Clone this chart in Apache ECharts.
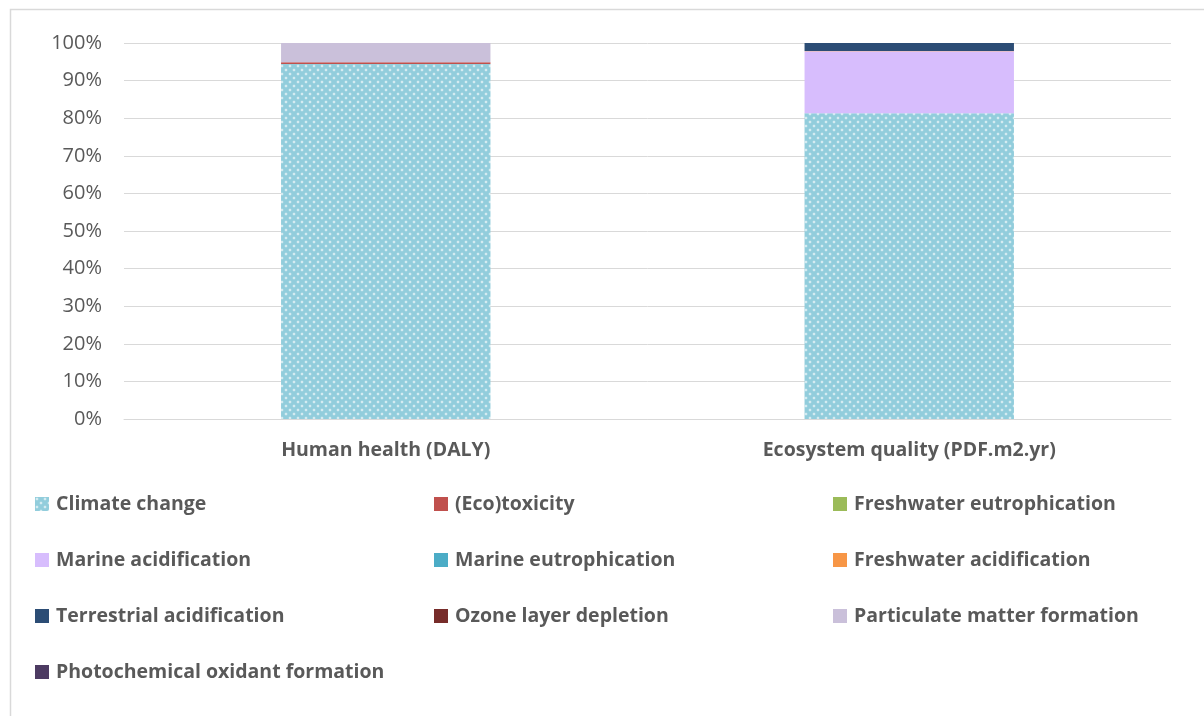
<!DOCTYPE html>
<html>
<head>
<meta charset="utf-8">
<script src="https://cdn.jsdelivr.net/npm/echarts@6/dist/echarts.min.js"></script>
<style>
  html, body { margin: 0; padding: 0; background: #fff; }
  #chart { width: 1204px; height: 716px; }
</style>
</head>
<body>
<div id="chart"></div>
<script>
const categories = ['Human health (DALY)', 'Ecosystem quality (PDF.m2.yr)']
const seriesNames = [
  'Climate change', '(Eco)toxicity', 'Freshwater eutrophication',
  'Marine acidification', 'Marine eutrophication', 'Freshwater acidification',
  'Terrestrial acidification', 'Ozone layer depletion', 'Particulate matter formation',
  'Photochemical oxidant formation'
]
// share of each category, in %
const climateChange = [94.4, 81.3]
const ecoToxicity = [0.5, 0]
const freshwaterEutro = [0, 0]
const marineAcid = [0, 16.5]
const marineEutro = [0, 0]
const freshwaterAcid = [0, 0.1]
const terrestrialAcid = [0, 2.1]
const ozoneDepletion = [0, 0]
const particulate = [5.1, 0]
const photochemical = [0, 0]
const yTicks = [0, 10, 20, 30, 40, 50, 60, 70, 80, 90, 100]

const seriesData = [climateChange, ecoToxicity, freshwaterEutro, marineAcid, marineEutro,
  freshwaterAcid, terrestrialAcid, ozoneDepletion, particulate, photochemical]

// dotted fill like the office pattern
function dotPattern() {
  const c = document.createElement('canvas')
  c.width = 8
  c.height = 8
  const ctx = c.getContext('2d')
  ctx.fillStyle = '#92CDDC'
  ctx.fillRect(0, 0, 8, 8)
  const dots = [[2, 2], [6, 6]]
  dots.forEach(function(d) {
    const g = ctx.createRadialGradient(d[0], d[1], 0, d[0], d[1], 1.8)
    g.addColorStop(0, 'rgba(255,255,255,1)')
    g.addColorStop(1, 'rgba(255,255,255,0)')
    ctx.fillStyle = g
    ctx.fillRect(d[0] - 2, d[1] - 2, 4, 4)
  })
  return { image: c, repeat: 'repeat' }
}

const colors = [dotPattern(), '#C0504D', '#9BBB59', '#D7BDFD', '#4BACC6',
  '#F79646', '#2C4D75', '#772C2A', '#CAC0DA', '#4D3B62']

const textColor = '#595959'
const font = '"Open Sans", "Liberation Sans", sans-serif'

const chart = echarts.init(document.getElementById('chart'))

const option = {
  animation: false,
  backgroundColor: '#fff',
  graphic: [{
    type: 'rect',
    left: 8,
    top: 7,
    shape: { width: 1300, height: 800 },
    style: { fill: 'none', stroke: '#D9D9D9', lineWidth: 1.5 },
    silent: true
  }],
  grid: {
    left: 124,
    right: 33,
    top: 43,
    height: 376
  },
  legend: {
    left: 30,
    top: 489,
    width: 1170,
    itemGap: 36,
    itemWidth: 14,
    itemHeight: 14,
    icon: 'rect',
    data: seriesNames,
    textStyle: {
      color: textColor,
      fontFamily: font,
      fontWeight: 'bold',
      fontSize: 19.5,
      width: 342,
      lineHeight: 16,
      padding: [0, 0, 0, 2]
    }
  },
  xAxis: {
    type: 'category',
    data: categories,
    axisLine: { lineStyle: { color: '#D9D9D9' } },
    axisTick: { show: false },
    axisLabel: {
      color: textColor,
      fontFamily: font,
      fontWeight: 'bold',
      fontSize: 19.5,
      margin: 21
    }
  },
  yAxis: {
    type: 'value',
    min: yTicks[0],
    max: yTicks[yTicks.length - 1],
    interval: 10,
    axisLine: { show: false },
    axisTick: { show: false },
    splitLine: { lineStyle: { color: '#D9D9D9', width: 1 } },
    axisLabel: {
      formatter: '{value}%',
      color: textColor,
      fontFamily: font,
      fontSize: 20,
      margin: 22
    }
  },
  series: seriesNames.map(function(name, i) {
    return {
      name: name,
      type: 'bar',
      stack: 'total',
      barWidth: '40%',
      data: seriesData[i],
      itemStyle: { color: colors[i] }
    }
  })
}

chart.setOption(option)
</script>
</body>
</html>
